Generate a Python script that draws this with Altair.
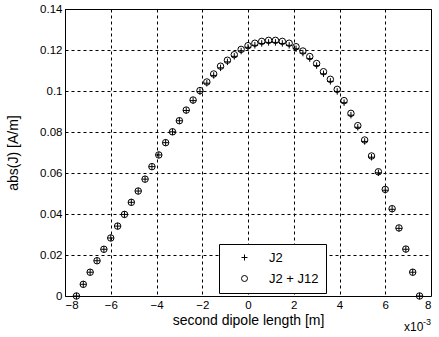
import altair as alt
import pandas as pd

# x positions in units of 1e-3 m
x_vals = [-7.5, -7.2, -6.9, -6.6, -6.3, -6.0, -5.7, -5.4, -5.1, -4.8,
          -4.5, -4.2, -3.9, -3.6, -3.3, -3.0, -2.7, -2.4, -2.1, -1.8,
          -1.5, -1.2, -0.9, -0.6, -0.3, 0.0, 0.3, 0.6, 0.9, 1.2,
          1.5, 1.8, 2.1, 2.4, 2.7, 3.0, 3.3, 3.6, 3.9, 4.2,
          4.5, 4.8, 5.1, 5.4, 5.7, 6.0, 6.3, 6.6, 6.9, 7.2, 7.5]

j2_j12 = [0.0000, 0.0057, 0.0116, 0.0172, 0.0228, 0.0283, 0.0341, 0.0398, 0.0457, 0.0512,
          0.0570, 0.0631, 0.0688, 0.0748, 0.0801, 0.0855, 0.0907, 0.0956, 0.1002, 0.1044,
          0.1083, 0.1121, 0.1150, 0.1177, 0.1203, 0.1221, 0.1233, 0.1242, 0.1247, 0.1247,
          0.1242, 0.1233, 0.1216, 0.1195, 0.1168, 0.1134, 0.1094, 0.1057, 0.1008, 0.0953,
          0.0891, 0.0831, 0.0761, 0.0683, 0.0606, 0.0520, 0.0426, 0.0332, 0.0229, 0.0116, 0.0000]

j2 = [0.0000, 0.0057, 0.0116, 0.0172, 0.0228, 0.0283, 0.0341, 0.0398, 0.0457, 0.0512,
      0.0570, 0.0631, 0.0688, 0.0748, 0.0801, 0.0855, 0.0905, 0.0953, 0.0997, 0.1038,
      0.1076, 0.1113, 0.1142, 0.1169, 0.1195, 0.1213, 0.1223, 0.1232, 0.1237, 0.1237,
      0.1232, 0.1223, 0.1206, 0.1185, 0.1158, 0.1124, 0.1084, 0.1047, 0.0998, 0.0943,
      0.0882, 0.0823, 0.0754, 0.0677, 0.0601, 0.0516, 0.0423, 0.0330, 0.0228, 0.0116, 0.0000]

series_names = ["J2", "J2 + J12"]
x_ticks = [-8, -6, -4, -2, 0, 2, 4, 6, 8]
y_ticks = [0, 0.02, 0.04, 0.06, 0.08, 0.1, 0.12, 0.14]

rows = []
for xv, a, b in zip(x_vals, j2, j2_j12):
    rows.append({"x": xv, "y": b, "series": series_names[1]})
    rows.append({"x": xv, "y": a, "series": series_names[0]})
df = pd.DataFrame(rows)

FONT = "Liberation Sans"
W, H = 366, 287
PLUS = "M-1,0L1,0M0,-1L0,1"

points = alt.Chart(df).mark_point(filled=False, strokeWidth=1, opacity=1, size=42).encode(
    x=alt.X("x:Q", scale=alt.Scale(domain=[-8, 8], nice=False),
            axis=alt.Axis(values=x_ticks, title="second dipole length [m]",
                          titleY=28, titleBaseline="alphabetic")),
    y=alt.Y("y:Q", scale=alt.Scale(domain=[0, 0.14], nice=False),
            axis=alt.Axis(values=y_ticks, format=".2~f", title="abs(J) [A/m]",
                          titleX=-52, titleY=H / 2, titleBaseline="middle", titleAlign="center")),
    shape=alt.Shape("series:N", scale=alt.Scale(domain=series_names, range=[PLUS, "circle"]),
                    legend=alt.Legend(title=None, orient="none", legendX=154, legendY=235)),
    color=alt.value("black"),
)

exp_df = pd.DataFrame({"t": ["x10"], "s": ["-3"]})
exp_main = alt.Chart(exp_df).mark_text(font=FONT, fontSize=12, align="left", baseline="alphabetic").encode(
    text="t:N", x=alt.value(339), y=alt.value(H + 35))
exp_sup = alt.Chart(exp_df).mark_text(font=FONT, fontSize=9, align="left", baseline="alphabetic").encode(
    text="s:N", x=alt.value(358), y=alt.value(H + 29))

chart = alt.layer(points, exp_main, exp_sup).properties(
    width=W, height=H,
    autosize=alt.AutoSizeParams(type="none"),
    padding={"left": 65, "top": 9, "right": 8, "bottom": 41},
).configure_view(stroke="black", strokeWidth=1).configure_axis(
    grid=True, gridColor="black", gridDash=[3, 3], gridWidth=1, gridOpacity=1,
    domain=False, ticks=False, labelFont=FONT, labelFontSize=11.5, labelColor="black",
    labelPadding=3, titleFont=FONT, titleFontSize=14, titleFontWeight="normal", titleColor="black",
).configure_legend(
    strokeColor="black", fillColor="white", padding=7, labelFont=FONT, labelFontSize=13,
    labelColor="black", symbolStrokeColor="black", symbolStrokeWidth=1, symbolOffset=12,
    labelOffset=18, rowPadding=7, symbolSize=36,
)

chart.save("out.html", embed_options={"renderer": "svg", "actions": False})
